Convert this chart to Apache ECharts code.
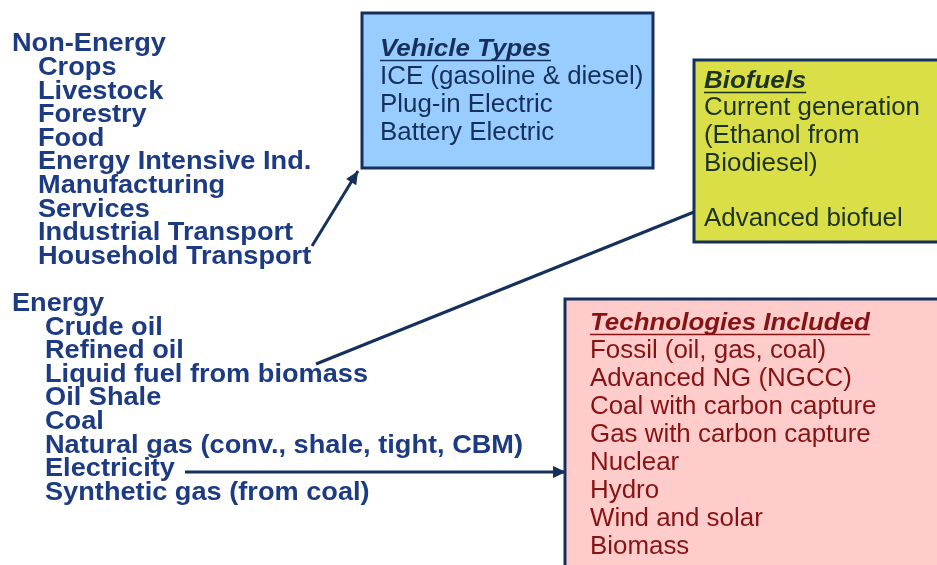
<!DOCTYPE html>
<html>
<head>
<meta charset="utf-8">
<script src="https://cdn.jsdelivr.net/npm/echarts@6/dist/echarts.min.js"></script>
<style>
  html, body { margin: 0; padding: 0; background: #ffffff; }
  #main { width: 937px; height: 565px; }
</style>
</head>
<body>
<div id="main"></div>
<script>
// Sector lists (left side)
const nonEnergyHeader = 'Non-Energy';
const nonEnergySectors = ['Crops', 'Livestock', 'Forestry', 'Food', 'Energy Intensive Ind.',
  'Manufacturing', 'Services', 'Industrial Transport', 'Household Transport'];
const energyHeader = 'Energy';
const energySectors = ['Crude oil', 'Refined oil', 'Liquid fuel from biomass', 'Oil Shale', 'Coal',
  'Natural gas (conv., shale, tight, CBM)', 'Electricity', 'Synthetic gas (from coal)'];

// Detail boxes
const vehicleTitle = 'Vehicle Types';
const vehicleTypes = ['ICE (gasoline & diesel)', 'Plug-in Electric', 'Battery Electric'];
const biofuelTitle = 'Biofuels';
const biofuelLines = ['Current generation', '(Ethanol from', 'Biodiesel)', '', 'Advanced biofuel'];
const techTitle = 'Technologies Included';
const techList = ['Fossil (oil, gas, coal)', 'Advanced NG (NGCC)', 'Coal with carbon capture',
  'Gas with carbon capture', 'Nuclear', 'Hydro', 'Wind and solar', 'Biomass'];

(function () {
  const chart = echarts.init(document.getElementById('main'), null, { renderer: 'canvas' });
  const FAMILY = '"Liberation Sans", Arial, sans-serif';
  const NAVY = '#16305c';
  const measureCtx = document.createElement('canvas').getContext('2d');

  const els = [];

  // slide text is a little stretched horizontally, so scale each line
  function text(str, x, y, font, color, sx) {
    els.push({
      type: 'text', x: x, y: y, scaleX: sx, z: 10,
      style: { text: str, x: 0, y: 0, font: font, fill: color, textVerticalAlign: 'middle' }
    });
  }

  function underlinedTitle(str, x, y, color) {
    const font = 'italic bold 24px ' + FAMILY;
    const sx = 1.08;
    text(str, x, y, font, color, sx);
    measureCtx.font = font;
    const w = measureCtx.measureText(str).width * sx;
    els.push({
      type: 'line', z: 10,
      shape: { x1: x, y1: y + 11, x2: x + w, y2: y + 11 },
      style: { stroke: color, lineWidth: 1.6 }
    });
  }

  function box(x, y, w, h, fill) {
    els.push({
      type: 'rect', z: 1,
      shape: { x: x, y: y, width: w, height: h },
      style: { fill: fill, stroke: NAVY, lineWidth: 3 }
    });
  }

  function arrow(x1, y1, x2, y2, head) {
    els.push({
      type: 'line', z: 5,
      shape: { x1: x1, y1: y1, x2: x2, y2: y2 },
      style: { stroke: NAVY, lineWidth: 3 }
    });
    if (!head) return;
    const a = Math.atan2(y2 - y1, x2 - x1);
    const L = 13, W = 6;
    const bx = x2 - L * Math.cos(a), by = y2 - L * Math.sin(a);
    els.push({
      type: 'polygon', z: 6,
      shape: { points: [
        [x2, y2],
        [bx + W * Math.sin(a), by - W * Math.cos(a)],
        [bx - W * Math.sin(a), by + W * Math.cos(a)]
      ] },
      style: { fill: NAVY }
    });
  }

  // Left column
  const LEFT = '#1d3b82';
  const boldFont = 'bold 26px ' + FAMILY;
  const BSX = 1.045;
  text(nonEnergyHeader, 12, 44, boldFont, LEFT, BSX);
  nonEnergySectors.forEach((s, i) => text(s, 38, 67.8 + i * 23.6, boldFont, LEFT, BSX));
  text(energyHeader, 12, 303.5, boldFont, LEFT, BSX);
  energySectors.forEach((s, i) => text(s, 45, 327.5 + i * 23.6, boldFont, LEFT, BSX));

  const regFont = '25px ' + FAMILY;
  const RSX = 1.036;

  // Vehicle box
  box(362, 13, 291, 155, '#99ccff');
  const VCOL = '#15305a';
  underlinedTitle(vehicleTitle, 380, 49.5, VCOL);
  vehicleTypes.forEach((s, i) => text(s, 380, 77.5 + i * 27.6, regFont, VCOL, RSX));

  // Biofuels box
  box(694, 60, 260, 182, '#dadf48');
  const BCOL = '#1c3320';
  underlinedTitle(biofuelTitle, 704, 81.5, BCOL);
  biofuelLines.forEach((s, i) => s && text(s, 704, 108.5 + i * 27.7, regFont, BCOL, RSX));

  // Technologies box
  box(565, 299, 390, 290, '#ffcccc');
  const TCOL = '#861313';
  underlinedTitle(techTitle, 590, 323.5, TCOL);
  techList.forEach((s, i) => text(s, 590, 351.5 + i * 27.9, regFont, TCOL, RSX));

  // Connectors
  arrow(312, 246, 358, 171, true);
  arrow(316, 364, 694, 212, false);
  arrow(185, 472, 566, 472, true);

  chart.setOption({
    backgroundColor: '#ffffff',
    animation: false,
    graphic: { elements: els }
  });

  window.addEventListener('resize', () => chart.resize());
})();
</script>
</body>
</html>
